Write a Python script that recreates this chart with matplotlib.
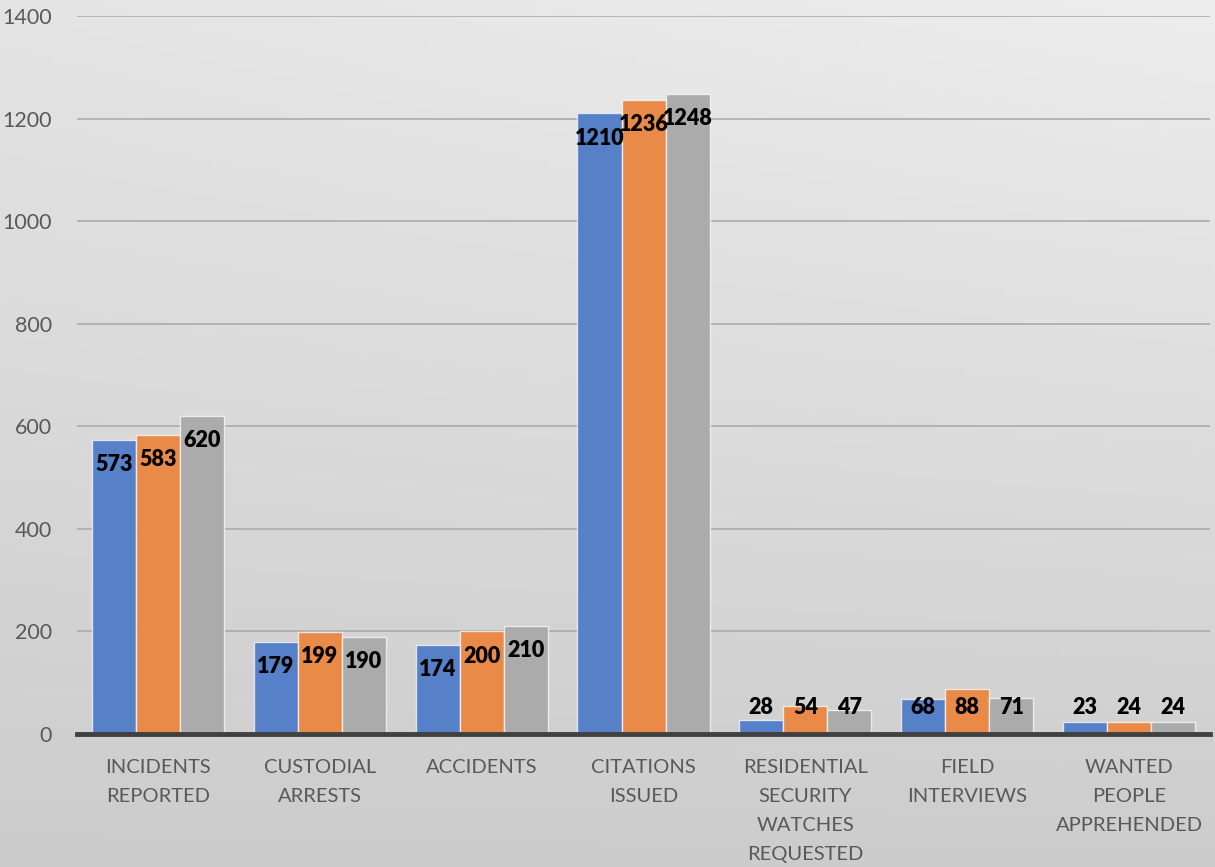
import numpy as np
import matplotlib
matplotlib.use("Agg")
import matplotlib.pyplot as plt

categories = ["INCIDENTS\nREPORTED", "CUSTODIAL\nARRESTS", "ACCIDENTS", "CITATIONS\nISSUED",
              "RESIDENTIAL\nSECURITY\nWATCHES\nREQUESTED", "FIELD\nINTERVIEWS",
              "WANTED\nPEOPLE\nAPPREHENDED"]
series_1 = [573, 179, 174, 1210, 28, 68, 23]
series_2 = [583, 199, 200, 1236, 54, 88, 24]
series_3 = [620, 190, 210, 1248, 47, 71, 24]
y_ticks = [0, 200, 400, 600, 800, 1000, 1200, 1400]

colors = ["#5680C8", "#EA8A48", "#ABABAB"]
font = ["Lato", "DejaVu Sans"]

fig = plt.figure(figsize=(12.15, 8.67), dpi=100)

# soft gradient background
bg = fig.add_axes([0, 0, 1, 1], zorder=0)
h, w = 200, 300
yy, xx = np.mgrid[0:h, 0:w]
grad = 0.895 - 0.095 * (yy / h) + 0.035 * (xx / w) * (1 - yy / h)
bg.imshow(np.dstack([grad] * 3), aspect="auto", extent=[0, 1, 0, 1], origin="upper")
bg.axis("off")

ax = fig.add_axes([0.0634, 0.1534, 0.9325, 0.8281], zorder=1)
ax.patch.set_alpha(0)

x = np.arange(len(categories))
bw = 0.272
for i, (vals, c) in enumerate(zip([series_1, series_2, series_3], colors)):
    pos = x + (i - 1) * bw
    ax.bar(pos, vals, width=bw, color=c, edgecolor=(1, 1, 1, 0.7), linewidth=1.0, zorder=3)
    for px, v in zip(pos, vals):
        ly = max(v - 48, 52)
        ax.text(px, ly, str(v), ha="center", va="center", fontsize=15.5,
                fontweight="heavy", color="black", family=font, zorder=5)

ax.set_ylim(0, 1400)
ax.set_xlim(-0.5, len(categories) - 0.5)
ax.set_yticks(y_ticks)
ax.set_yticklabels([str(t) for t in y_ticks], family=font, fontsize=15.5, color="#595959")
ax.set_xticks(x)
ax.set_xticklabels(categories, family=font, fontsize=14.5, color="#595959", linespacing=1.86)
ax.tick_params(axis="both", length=0)
ax.tick_params(axis="y", pad=18)
ax.tick_params(axis="x", pad=18)
ax.yaxis.grid(True, color="#ababab", linewidth=1.2, zorder=0)
ax.set_axisbelow(True)
for s in ["top", "right", "left"]:
    ax.spines[s].set_visible(False)
ax.spines["bottom"].set_color("#404040")
ax.spines["bottom"].set_linewidth(3.5)
ax.spines["bottom"].set_zorder(6)

fig.savefig("out.png", dpi=100)
